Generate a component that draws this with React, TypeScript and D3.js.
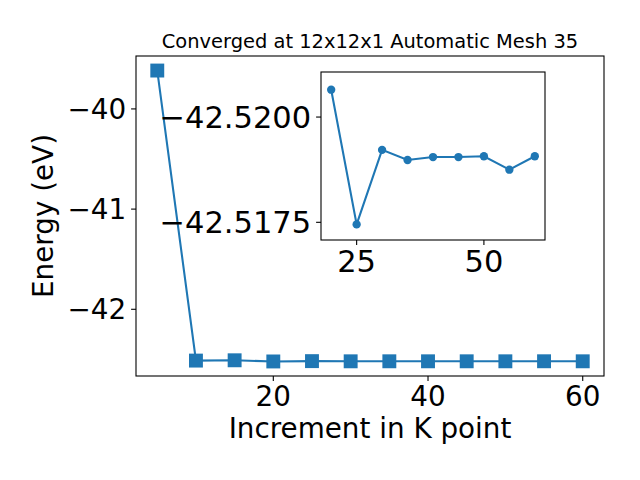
import React from "react";
import * as d3 from "d3";

const kPoints = [5, 10, 15, 20, 25, 30, 35, 40, 45, 50, 55, 60];
const energies = [
  -39.617, -42.512, -42.509, -42.52065, -42.51745, -42.51922, -42.51898,
  -42.51905, -42.51905, -42.51907, -42.51875, -42.51907,
];
const mainXTicks = [20, 40, 60];
const mainYTicks = [-40, -41, -42];
const insetXTicks = [25, 50];
const insetYTicks = [-42.52, -42.5175];
const insetYDomain = [-42.52107, -42.51708];
const titleText = "Converged at 12x12x1 Automatic Mesh 35";
const xLabel = "Increment in K point";
const yLabel = "Energy (eV)";

const COLOR = "#1f77b4";
const FONT = "DejaVu Sans, sans-serif";
const fmtMinus = (s: string) => s.replace("-", "\u2212");

export default function App() {
  const W = 640, H = 480;
  const m = { l: 136, r: 604, t: 56, b: 376 };
  const xExt = d3.extent(kPoints) as [number, number];
  const yExt = d3.extent(energies) as [number, number];
  const xPad = (xExt[1] - xExt[0]) * 0.05;
  const yPad = (yExt[1] - yExt[0]) * 0.05;
  const x = d3.scaleLinear().domain([xExt[0] - xPad, xExt[1] + xPad]).range([m.l, m.r]);
  const y = d3.scaleLinear().domain([yExt[0] - yPad, yExt[1] + yPad]).range([m.b, m.t]);

  const pts = kPoints.map((k, i) => ({ k, e: energies[i] }));
  const line = d3.line<{ k: number; e: number }>().x((d) => x(d.k)).y((d) => y(d.e));

  // inset
  const im = { l: 321, r: 545, t: 72, b: 240 };
  const insetPts = pts.filter((p) => p.k >= 20);
  const ixExt = d3.extent(insetPts, (d) => d.k) as [number, number];
  const ixPad = (ixExt[1] - ixExt[0]) * 0.05;
  const ix = d3.scaleLinear().domain([ixExt[0] - ixPad, ixExt[1] + ixPad]).range([im.l, im.r]);
  const iy = d3.scaleLinear().domain(insetYDomain).range([im.t, im.b]);
  const iline = d3.line<{ k: number; e: number }>().x((d) => ix(d.k)).y((d) => iy(d.e));

  const tickLen = 4.9;
  const tickFont = 27.8;
  const insetFont = 30.5;
  const ms = 13.9;

  return (
    <svg width={W} height={H} style={{ position: "absolute", left: 0, top: 0, background: "#fff" }} fontFamily={FONT}>
      <rect x={0} y={0} width={W} height={H} fill="#fff" />
      {/* main line and markers */}
      <path d={line(pts) || ""} fill="none" stroke={COLOR} strokeWidth={2.08} />
      {pts.map((p, i) => (
        <rect key={i} x={x(p.k) - ms / 2} y={y(p.e) - ms / 2} width={ms} height={ms} fill={COLOR} />
      ))}
      {/* main frame */}
      <rect x={m.l} y={m.t} width={m.r - m.l} height={m.b - m.t} fill="none" stroke="#000" strokeWidth={1.1} />
      {mainXTicks.map((t) => (
        <g key={t}>
          <line x1={x(t)} x2={x(t)} y1={m.b} y2={m.b + tickLen} stroke="#000" strokeWidth={1.1} />
          <text x={x(t)} y={m.b + 2 * tickLen + 0.729 * tickFont} fontSize={tickFont} textAnchor="middle">{t}</text>
        </g>
      ))}
      {mainYTicks.map((t) => (
        <g key={t}>
          <line x1={m.l - tickLen} x2={m.l} y1={y(t)} y2={y(t)} stroke="#000" strokeWidth={1.1} />
          <text x={m.l - 2 * tickLen} y={y(t) + 0.729 * tickFont / 2} fontSize={tickFont} textAnchor="end">{fmtMinus(String(t))}</text>
        </g>
      ))}
      <text x={(m.l + m.r) / 2} y={48.3} fontSize={19.44} textAnchor="middle">{titleText}</text>
      <text x={(m.l + m.r) / 2} y={438.3} fontSize={tickFont} textAnchor="middle">{xLabel}</text>
      <text transform={`translate(${53},${(m.t + m.b) / 2}) rotate(-90)`} fontSize={tickFont} textAnchor="middle">{yLabel}</text>

      {/* inset */}
      <rect x={im.l} y={im.t} width={im.r - im.l} height={im.b - im.t} fill="#fff" stroke="none" />
      <path d={iline(insetPts) || ""} fill="none" stroke={COLOR} strokeWidth={2.08} />
      {insetPts.map((p, i) => (
        <circle key={i} cx={ix(p.k)} cy={iy(p.e)} r={4.17} fill={COLOR} />
      ))}
      <rect x={im.l} y={im.t} width={im.r - im.l} height={im.b - im.t} fill="none" stroke="#000" strokeWidth={1.1} />
      {insetXTicks.map((t) => (
        <g key={t}>
          <line x1={ix(t)} x2={ix(t)} y1={im.b} y2={im.b + tickLen} stroke="#000" strokeWidth={1.1} />
          <text x={ix(t)} y={im.b + 2 * tickLen + 0.729 * insetFont} fontSize={insetFont} textAnchor="middle">{t}</text>
        </g>
      ))}
      {insetYTicks.map((t) => (
        <g key={t}>
          <line x1={im.l - tickLen} x2={im.l} y1={iy(t)} y2={iy(t)} stroke="#000" strokeWidth={1.1} />
          <text x={im.l - 2 * tickLen} y={iy(t) + 0.729 * insetFont / 2} fontSize={insetFont} textAnchor="end">{fmtMinus(t.toFixed(4))}</text>
        </g>
      ))}
    </svg>
  );
}
